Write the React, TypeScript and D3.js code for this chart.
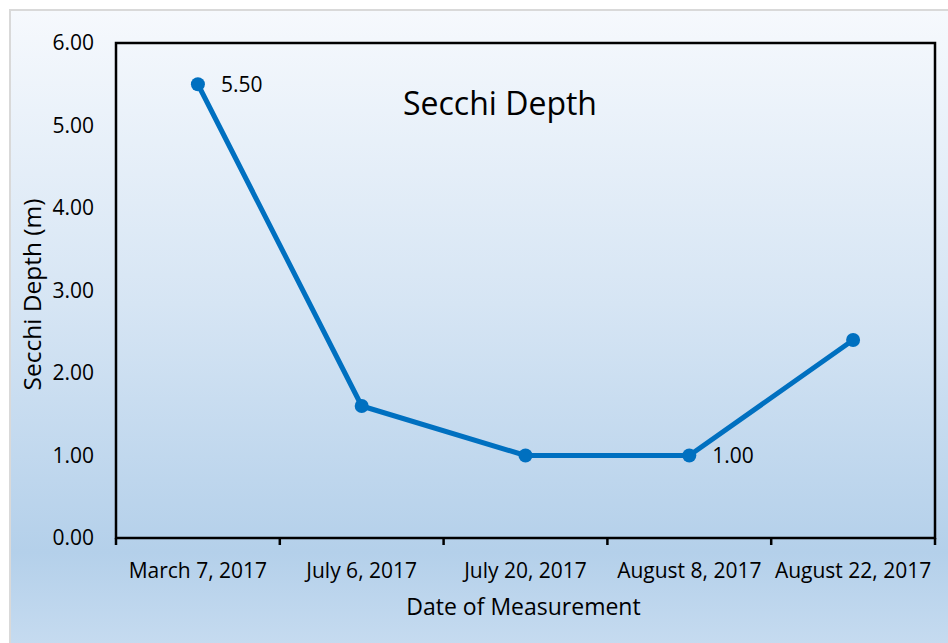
import React from "react";
import * as d3 from "d3";

// Secchi depth readings
const dates = ["March 7, 2017", "July 6, 2017", "July 20, 2017", "August 8, 2017", "August 22, 2017"];
const depths = [5.5, 1.6, 1.0, 1.0, 2.4];
const labelled = [0, 3]; // points that carry a value label
const yTicks = [0, 1, 2, 3, 4, 5, 6];

const W = 948;
const H = 643;
const margin = { top: 43, right: 13, bottom: 105, left: 116 };
const font = "'Open Sans', 'Noto Sans', sans-serif";

export default function App() {
  const w = W - margin.left - margin.right;
  const h = H - margin.top - margin.bottom;

  const x = d3.scaleBand().domain(dates).range([0, w]);
  const y = d3.scaleLinear().domain([0, 6]).range([h, 0]);

  const line = d3
    .line<number>()
    .x((d, i) => (x(dates[i]) as number) + x.bandwidth() / 2)
    .y((d) => y(d));

  const bounds = dates.map((d) => x(d) as number).concat([w]);

  return (
    <svg width={W} height={H} style={{ position: "absolute", left: 0, top: 0 }}>
      <defs>
        <linearGradient id="bg" x1="0" y1="0" x2="0" y2="1">
          <stop offset="0" stopColor="#f6f9fd" />
          <stop offset="0.45" stopColor="#d6e5f4" />
          <stop offset="0.83" stopColor="#b4d0ea" />
          <stop offset="1" stopColor="#c9ddf1" />
        </linearGradient>
      </defs>
      <rect x={10} y={10} width={W + 10} height={H + 10} fill="url(#bg)" stroke="#d9d9d9" strokeWidth={2} />

      <text x={500} y={115} textAnchor="middle" fontFamily={font} fontSize={32} fill="#000">
        Secchi Depth
      </text>

      <g transform={`translate(${margin.left},${margin.top})`}>
        <rect x={0} y={0} width={w} height={h} fill="none" stroke="#000" strokeWidth={2.5} />

        {yTicks.map((t) => (
          <text key={t} x={-22} y={y(t)} dy="0.35em" textAnchor="end" fontFamily={font} fontSize={21} fill="#000">
            {t.toFixed(2)}
          </text>
        ))}

        {bounds.map((b, i) => (
          <line key={i} x1={b} x2={b} y1={h} y2={h + 7} stroke="#000" strokeWidth={2.5} />
        ))}

        {dates.map((d) => (
          <text key={d} x={(x(d) as number) + x.bandwidth() / 2} y={h + 40} textAnchor="middle" fontFamily={font} fontSize={21} fill="#000">
            {d}
          </text>
        ))}

        <path d={line(depths) || ""} fill="none" stroke="#0070c0" strokeWidth={5} strokeLinejoin="round" />
        {depths.map((v, i) => (
          <circle key={i} cx={(x(dates[i]) as number) + x.bandwidth() / 2} cy={y(v)} r={7} fill="#0070c0" />
        ))}
        {labelled.map((i) => (
          <text key={i} x={(x(dates[i]) as number) + x.bandwidth() / 2 + 23} y={y(depths[i])} dy="0.35em" fontFamily={font} fontSize={21} fill="#000">
            {depths[i].toFixed(2)}
          </text>
        ))}

        <text x={w / 2 - 2} y={h + 77} textAnchor="middle" fontFamily={font} fontSize={23} fill="#000">
          Date of Measurement
        </text>
        <text transform={`translate(${-75},${h / 2 + 4}) rotate(-90)`} textAnchor="middle" fontFamily={font} fontSize={24.5} fill="#000">
          Secchi Depth (m)
        </text>
      </g>
    </svg>
  );
}
